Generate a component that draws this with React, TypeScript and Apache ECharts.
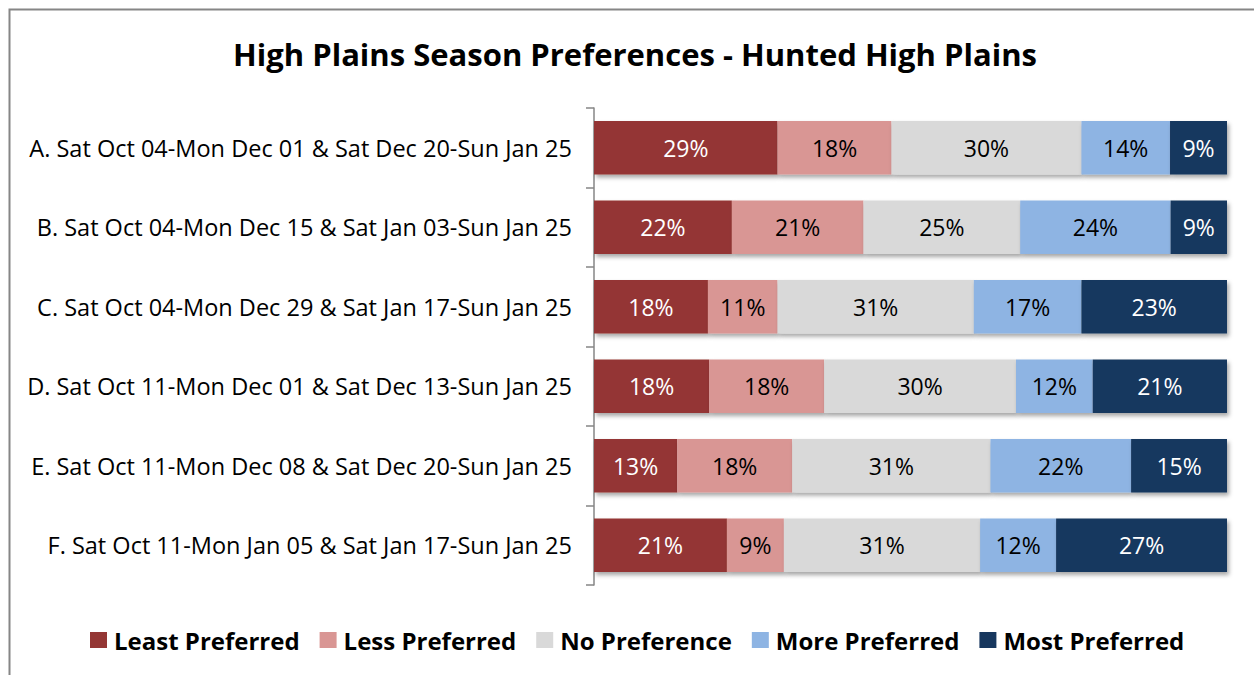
import React, { useEffect, useRef } from "react";
import * as echarts from "echarts";

const categories = [
  "A. Sat Oct 04-Mon Dec 01 & Sat Dec 20-Sun Jan 25",
  "B. Sat Oct 04-Mon Dec 15 & Sat Jan 03-Sun Jan 25",
  "C. Sat Oct 04-Mon Dec 29 & Sat Jan 17-Sun Jan 25",
  "D. Sat Oct 11-Mon Dec 01 & Sat Dec 13-Sun Jan 25",
  "E. Sat Oct 11-Mon Dec 08 & Sat Dec 20-Sun Jan 25",
  "F. Sat Oct 11-Mon Jan 05 & Sat Jan 17-Sun Jan 25",
];

const seriesNames = ["Least Preferred", "Less Preferred", "No Preference", "More Preferred", "Most Preferred"];
const leastPreferred = [29, 22, 18, 18, 13, 21];
const lessPreferred = [18, 21, 11, 18, 18, 9];
const noPreference = [30, 25, 31, 30, 31, 31];
const morePreferred = [14, 24, 17, 12, 22, 12];
const mostPreferred = [9, 9, 23, 21, 15, 27];
const colors = ["#943634", "#D99694", "#D9D9D9", "#8EB4E3", "#17375E"];
const labelColors = ["#FFFFFF", "#000000", "#000000", "#000000", "#FFFFFF"];

const FONT = "Open Sans";

export default function App() {
  const ref = useRef<HTMLDivElement>(null);
  useEffect(() => {
    if (!ref.current) return;
    const chart = echarts.init(ref.current, null, { renderer: "svg" });
    const all = [leastPreferred, lessPreferred, noPreference, morePreferred, mostPreferred];
    const totals = categories.map((_, i) => all.reduce((s, arr) => s + arr[i], 0));
    const series = all.map((arr, k) => ({
      name: seriesNames[k],
      type: "bar",
      stack: "total",
      barCategoryGap: "33%",
      data: arr.map((v, i) => ({ value: (v / totals[i]) * 100, raw: v })),
      itemStyle: {
        color: colors[k],
        shadowBlur: 4,
        shadowColor: "rgba(0,0,0,0.35)",
        shadowOffsetX: 2,
        shadowOffsetY: 3,
      },
      label: {
        show: true,
        position: "inside",
        color: labelColors[k],
        fontSize: 23,
        fontFamily: FONT,
        formatter: (p: any) => `${p.data.raw}%`,
      },
    }));
    chart.setOption({
      animation: false,
      backgroundColor: "#FFFFFF",
      graphic: [
        {
          type: "rect",
          shape: { x: 9.5, y: 9.5, width: 1260, height: 680 },
          style: { fill: "none", stroke: "#868686", lineWidth: 2 },
          silent: true,
        },
      ],
      title: {
        text: "High Plains Season Preferences - Hunted High Plains",
        left: 630,
        textAlign: "center",
        top: 33,
        textStyle: { fontFamily: FONT, fontSize: 31, fontWeight: "bold", color: "#000000" },
      },
      legend: {
        data: seriesNames,
        left: 85,
        top: 623,
        itemWidth: 17,
        itemHeight: 16,
        itemGap: 20,
        icon: "rect",
        textStyle: { fontFamily: FONT, fontSize: 24, fontWeight: "bold", color: "#000000", padding: [0, 0, 0, 2] },
      },
      grid: { left: 594, right: 27, top: 108, bottom: 90, containLabel: false },
      xAxis: {
        type: "value",
        min: 0,
        max: 100,
        show: false,
      },
      yAxis: {
        type: "category",
        data: categories,
        inverse: true,
        axisLine: { show: true, lineStyle: { color: "#868686", width: 1.5 } },
        axisTick: { show: true, length: 8, lineStyle: { color: "#868686", width: 1.5 } },
        axisLabel: { fontFamily: FONT, fontSize: 23.5, color: "#000000", margin: 22 },
        splitLine: { show: false },
      },
      series,
    });
    return () => chart.dispose();
  }, []);
  return <div ref={ref} style={{ position: "fixed", left: 0, top: 0, width: 1254, height: 675 }} />;
}
